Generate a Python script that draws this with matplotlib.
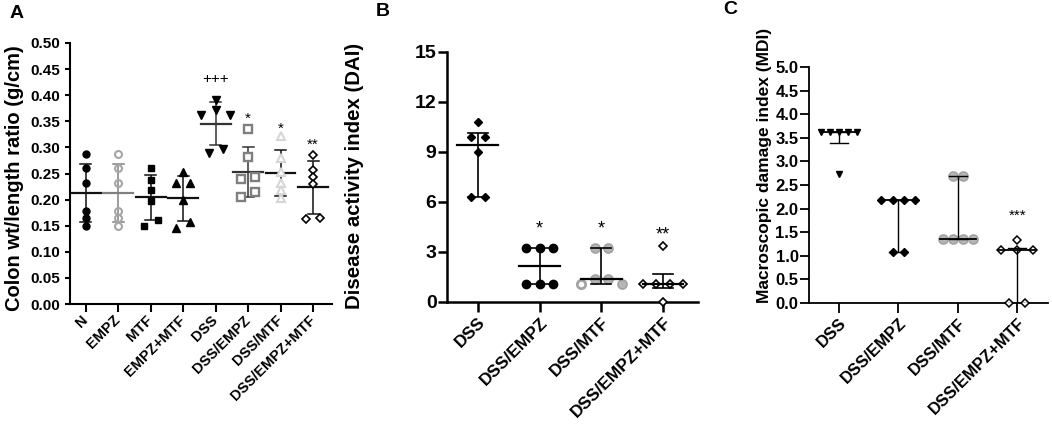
import numpy as np
import matplotlib
matplotlib.use("Agg")
import matplotlib.pyplot as plt

plt.rcParams['font.family'] = ['Liberation Sans', 'DejaVu Sans']

# ---- data ----
a_groups = ['N', 'EMPZ', 'MTF', 'EMPZ+MTF', 'DSS', 'DSS/EMPZ', 'DSS/MTF', 'DSS/EMPZ+MTF']
a_values = [
    [0.287, 0.260, 0.232, 0.179, 0.164, 0.150],   # N
    [0.287, 0.260, 0.232, 0.179, 0.164, 0.150],   # EMPZ
    [0.260, 0.237, 0.219, 0.198, 0.161, 0.150],   # MTF
    [0.252, 0.231, 0.231, 0.199, 0.157, 0.146],   # EMPZ+MTF
    [0.390, 0.372, 0.362, 0.362, 0.297, 0.290],   # DSS
    [0.335, 0.281, 0.244, 0.239, 0.215, 0.205],   # DSS/EMPZ
    [0.322, 0.279, 0.252, 0.232, 0.218, 0.203],   # DSS/MTF
    [0.285, 0.257, 0.244, 0.230, 0.164, 0.162],   # DSS/EMPZ+MTF
]
a_signif = ['', '', '', '', '+++', '*', '*', '**']

b_groups = ['DSS', 'DSS/EMPZ', 'DSS/MTF', 'DSS/EMPZ+MTF']
b_values = [
    [10.8, 9.9, 9.9, 9.0, 6.3, 6.3],
    [3.26, 3.26, 3.26, 1.08, 1.08, 1.08],
    [3.26, 3.26, 1.40, 1.40, 1.10, 1.06],
    [3.36, 1.10, 1.10, 1.10, 1.10, 0.0],
]
b_signif = ['', '*', '*', '**']

c_groups = ['DSS', 'DSS/EMPZ', 'DSS/MTF', 'DSS/EMPZ+MTF']
c_values = [
    [3.62, 3.62, 3.62, 3.62, 3.62, 2.73],
    [2.18, 2.18, 2.18, 2.18, 1.08, 1.08],
    [2.70, 2.70, 1.35, 1.35, 1.35, 1.35],
    [1.34, 1.12, 1.12, 1.12, 0.0, 0.0],
]
c_signif = ['', '', '', '***']

W, H = 1052, 426


def swarm(vals, tol, step):
    """spread points that sit at (nearly) the same height"""
    vals = np.asarray(vals, float)
    order = np.argsort(-vals, kind='stable')
    offs = np.zeros(len(vals))
    clusters = [[order[0]]]
    for i in order[1:]:
        if vals[clusters[-1][-1]] - vals[i] < tol:
            clusters[-1].append(i)
        else:
            clusters.append([i])
    for cl in clusters:
        n = len(cl)
        pos = (np.arange(n) - (n - 1) / 2) * step
        pos = sorted(pos, key=lambda p: (abs(p), -p))
        for idx, p in zip(cl, pos):
            offs[idx] = p
    return offs


def draw_group(ax, x, vals, mid, lo, hi, tol, step, mk, line_color='black',
               lw=1.1, mid_w=0.45, cap_w=0.17, mid_lw=1.6, lines_on_top=False,
               open_idx=None, open_style=None):
    vals = np.asarray(vals, float)
    xs = x + swarm(vals, tol, step)
    zl = 4 if lines_on_top else 2
    ax.plot([x, x], [lo, hi], color=line_color, lw=lw, zorder=zl, solid_capstyle='butt')
    ax.plot([x - cap_w, x + cap_w], [hi, hi], color=line_color, lw=lw, zorder=zl)
    ax.plot([x - cap_w, x + cap_w], [lo, lo], color=line_color, lw=lw, zorder=zl)
    ax.plot([x - mid_w, x + mid_w], [mid, mid], color=line_color, lw=mid_lw, zorder=zl)
    for i, (xx, yy) in enumerate(zip(xs, vals)):
        st = mk
        if open_idx is not None and i == open_idx:
            st = open_style
        ax.plot(xx, yy, linestyle='none', zorder=3, clip_on=False, **st)


def style_axis(ax, spine_w, ylen, xlen, ysize, xsize, labels, ypad, xpad, xva):
    for s in ['top', 'right']:
        ax.spines[s].set_visible(False)
    for s in ['left', 'bottom']:
        ax.spines[s].set_linewidth(spine_w)
    ax.tick_params(axis='y', length=ylen, width=spine_w, labelsize=ysize, pad=ypad)
    ax.tick_params(axis='x', length=xlen, width=spine_w, labelsize=xsize, pad=xpad)
    ax.set_xticks(range(len(labels)))
    ax.set_xticklabels(labels, rotation=45, ha='right', va=xva, rotation_mode='anchor')
    for t in ax.get_xticklabels() + ax.get_yticklabels():
        t.set_fontweight('bold')


fig = plt.figure(figsize=(W / 100, H / 100), dpi=100)

# ---------------- A ----------------
axA = fig.add_axes([70 / W, 1 - 304 / H, 262 / W, 261 / H])
a_marks = [
    dict(marker='o', ms=5, mfc='black', mec='black'),
    dict(marker='o', ms=5, mfc='none', mec='#a6a6a6', mew=1.5),
    dict(marker='s', ms=5, mfc='black', mec='black'),
    dict(marker='^', ms=5.5, mfc='black', mec='black'),
    dict(marker='v', ms=5.5, mfc='black', mec='black'),
    dict(marker='s', ms=5.5, mfc='white', mec='#7f7f7f', mew=1.7),
    dict(marker='^', ms=6, mfc='white', mec='#d6d6d6', mew=1.5),
    dict(marker='D', ms=4.2, mfc='white', mec='black', mew=1.2),
]
a_line_cols = ['#111111', '#808080', '#111111', '#111111', '#333333', '#333333', '#111111', '#111111']
for i, v in enumerate(a_values):
    m = np.mean(v)
    sd = np.std(v, ddof=1)
    draw_group(axA, i, v, m, m - sd, m + sd, tol=0.012, step=0.44, mk=a_marks[i],
               line_color=a_line_cols[i], lw=1.1, mid_w=0.46, cap_w=0.17, mid_lw=1.6)
a_star_base = [0, 0, 0, 0, 0.424, 0.348, 0.328, 0.297]
for i, s in enumerate(a_signif):
    if s:
        axA.text(i, a_star_base[i], s, ha='center', va='baseline', fontsize=11)
axA.set_xlim(-0.49, 7.585)
axA.set_ylim(0, 0.5)
axA.set_yticks(np.arange(0, 0.501, 0.05))
axA.yaxis.set_major_formatter(matplotlib.ticker.FormatStrFormatter('%.2f'))
style_axis(axA, 1.5, 3.5, 6, 11, 10.5, a_groups, 3.5, 4, 'center')

# ---------------- B ----------------
axB = fig.add_axes([447 / W, 1 - 302 / H, 251 / W, 250 / H])
b_marks = [
    dict(marker='D', ms=4.5, mfc='black', mec='black'),
    dict(marker='o', ms=6, mfc='black', mec='black'),
    dict(marker='o', ms=6.5, mfc='#b5b5b5', mec='#a3a3a3', mew=1.2),
    dict(marker='D', ms=4.5, mfc='white', mec='black', mew=1.2),
]
b_open = dict(marker='o', ms=6, mfc='white', mec='#a3a3a3', mew=2)
for i, v in enumerate(b_values):
    q1, med, q3 = np.percentile(v, [25, 50, 75], method='weibull')
    oi = int(np.argmin(v)) if i == 2 else None
    draw_group(axB, i, v, med, q1, q3, tol=0.35, step=0.22, mk=b_marks[i],
               lw=1.2, mid_w=0.33, cap_w=0.16, mid_lw=1.6, lines_on_top=True,
               open_idx=oi, open_style=b_open)
b_star_base = [0, 4.14, 4.14, 3.74]
for i, s in enumerate(b_signif):
    if s:
        axB.text(i, b_star_base[i], s, ha='center', va='baseline', fontsize=13)
axB.set_xlim(-0.50, 3.566)
axB.set_ylim(0, 15)
axB.set_yticks(np.arange(0, 16, 3))
style_axis(axB, 1.8, 6.5, 7, 14, 12.5, b_groups, 1, 2, 'top')

# ---------------- C ----------------
axC = fig.add_axes([809 / W, 1 - 303 / H, 239 / W, 236 / H])
c_marks = [
    dict(marker='v', ms=4.5, mfc='black', mec='black'),
    dict(marker='D', ms=4, mfc='black', mec='black'),
    dict(marker='o', ms=6.5, mfc='#b5b5b5', mec='#a3a3a3', mew=1.2),
    dict(marker='D', ms=4, mfc='white', mec='black', mew=1.1),
]
c_steps = [0.15, 0.19, 0.17, 0.27]
for i, v in enumerate(c_values):
    q1, med, q3 = np.percentile(v, [25, 50, 75], method='weibull')
    draw_group(axC, i, v, med, q1, q3, tol=0.1, step=c_steps[i], mk=c_marks[i],
               lw=1.0, mid_w=0.3, cap_w=0.15, mid_lw=1.3, lines_on_top=True)
c_star_base = [0, 0, 0, 1.77]
for i, s in enumerate(c_signif):
    if s:
        axC.text(i, c_star_base[i], s, ha='center', va='baseline', fontsize=11)
axC.set_xlim(-0.506, 3.52)
axC.set_ylim(0, 5)
axC.set_yticks(np.arange(0, 5.01, 0.5))
axC.yaxis.set_major_formatter(matplotlib.ticker.FormatStrFormatter('%.1f'))
style_axis(axC, 1.3, 6.5, 7, 12, 12, c_groups, 1, 2, 'top')

# ---- labels ----
fig.text(15 / W, 1 - 178 / H, 'Colon wt/length ratio (g/cm)', rotation=90,
         ha='center', va='center', fontsize=14.5, fontweight='bold')
fig.text(355 / W, 1 - 176 / H, 'Disease activity index (DAI)', rotation=90,
         ha='center', va='center', fontsize=14.7, fontweight='bold')
fig.text(765 / W, 1 - 165 / H, 'Macroscopic damage index (MDI)', rotation=90,
         ha='center', va='center', fontsize=12.5, fontweight='bold')

fig.text(17 / W, 1 - 13 / H, 'A', ha='center', va='center', fontsize=14, fontweight='bold')
fig.text(383 / W, 1 - 11 / H, 'B', ha='center', va='center', fontsize=14, fontweight='bold')
fig.text(730 / W, 1 - 10 / H, 'C', ha='center', va='center', fontsize=14, fontweight='bold')

fig.savefig('out.png', dpi=100)
